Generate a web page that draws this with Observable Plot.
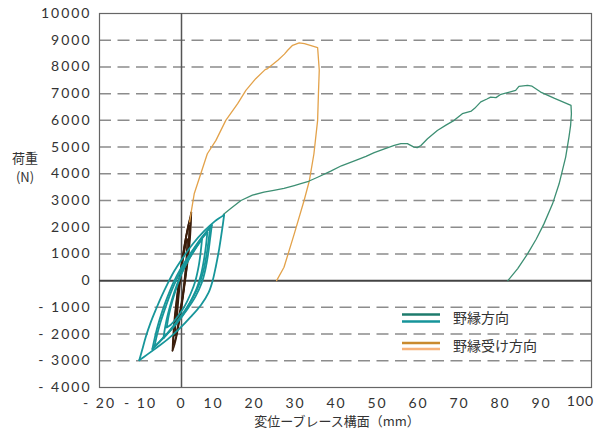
<!DOCTYPE html>
<html><head><meta charset="utf-8">
<script src="https://cdn.jsdelivr.net/npm/d3@7"></script>
<script src="https://cdn.jsdelivr.net/npm/@observablehq/plot@0.6"></script>
<style>
body{margin:0;background:#fff;}
#chart svg{display:block;}
</style>
</head><body><div id="chart"></div>
<script>
// ---- tick values ----
const xTicks = [-20,-10,0,10,20,30,40,50,60,70,80,90,100];
const yTicks = [-4000,-3000,-2000,-1000,0,1000,2000,3000,4000,5000,6000,7000,8000,9000,10000];
const gridY = [-3000,-2000,-1000,1000,2000,3000,4000,5000,6000,7000,8000,9000];

// ---- series names ----
const seriesNames = ["野縁方向","野縁受け方向"];

// ---- 野縁方向 monotonic (x mm, y N) ----
const nobuchiMono = [
 [10.2,2480],[12,2700],[14.5,3000],[17.3,3200],[20.1,3310],[22.5,3380],[25,3450],[27.5,3560],
 [29.1,3630],[31,3720],[33.2,3870],[36.4,4100],[39,4300],[42.5,4500],[45,4650],[47,4790],
 [49.5,4930],[51.9,5060],[53.5,5130],[55.1,5130],[56.7,5000],[57.5,4980],[58.4,5060],[60,5310],
 [62.4,5620],[64.5,5820],[66.5,6000],[68.5,6250],[70.7,6350],[71.5,6450],[73,6690],[74.5,6800],
 [75.4,6870],[76.7,6850],[77.9,6975],[80,7060],[81.5,7125],[82.3,7275],[84.4,7310],[85.5,7280],
 [87.6,7060],[91,6820],[95,6560],[95.1,6250],[94.9,5800],[94.5,5375],[93.7,4625],[92.1,3625],
 [90.5,2875],[88.4,2125],[86.5,1550],[84.4,1000],[82,450],[79.6,0]
];

// ---- 野縁受け方向 monotonic ----
const ukeMono = [
 [2.0,2200],[2.4,2600],[3.1,3250],[4.7,4000],[6.3,4750],[8.4,5250],[10.8,6000],[13.7,6625],
 [15.7,7125],[18.1,7560],[20.4,7900],[21,7940],[23.5,8250],[25.1,8480],[25.9,8625],[27.1,8810],
 [28.7,8900],[30,8870],[33.2,8725],[33.6,7875],[33.4,7000],[33.2,6000],[32.3,4750],[31.2,3750],
 [29.9,3000],[27.5,1750],[25,500],[23.2,0]
];

// ---- 野縁方向 cyclic loops (each loop: upper branch, lower branch) ----
const nobuchiLoop1Up = [[-10.3,-2980],[-9.6,-2600],[-8.7,-2100],[-7.6,-1600],[-6.3,-1100],[-4.9,-600],[-3.5,-150],[-1.8,350],[0.3,850],[2.8,1380],[5.5,1850],[8.1,2220],[10.4,2460]];
const nobuchiLoop1Dn = [[10.4,2460],[9.9,1900],[9.2,1200],[8.4,550],[7.6,0],[6.6,-450],[4.8,-900],[2.3,-1350],[-0.5,-1800],[-3.4,-2200],[-6,-2500],[-8.3,-2760],[-10.3,-2980]];
const nobuchiLoop2Up = [[-7.1,-2560],[-6.6,-2200],[-5.8,-1700],[-4.7,-1150],[-3.4,-600],[-2,-80],[-0.2,450],[1.9,950],[4.1,1450],[6,1820],[7.4,2080]];
const nobuchiLoop2Dn = [[7.4,2080],[7,1600],[6.5,1000],[5.8,400],[4.9,-100],[3.4,-600],[1.3,-1100],[-1.2,-1600],[-3.8,-2050],[-5.7,-2350],[-7.1,-2560]];
const nobuchiLoop3Up = [[-6.6,-2480],[-6,-2050],[-5.1,-1550],[-3.9,-1000],[-2.6,-450],[-1.2,50],[0.5,550],[2.5,1050],[4.5,1500],[6,1800],[7,1990]];
const nobuchiLoop3Dn = [[7,1990],[6.6,1500],[6.1,950],[5.4,400],[4.4,-100],[2.9,-600],[0.9,-1100],[-1.5,-1600],[-3.9,-2050],[-5.5,-2300],[-6.6,-2480]];
const nobuchiLoop4Up = [[-4.4,-2150],[-4,-1750],[-3.3,-1250],[-2.3,-700],[-1.1,-150],[0.4,400],[2.2,900],[4,1350],[5.4,1650],[6.3,1810]];
const nobuchiLoop4Dn = [[6.3,1810],[6,1350],[5.5,800],[4.8,250],[3.8,-250],[2.3,-750],[0.5,-1250],[-1.5,-1650],[-3.2,-1950],[-4.4,-2150]];
const nobuchiLoop5Up = [[-3.6,-1750],[-3.1,-1300],[-2.3,-800],[-1.3,-300],[0,250],[1.6,750],[3.2,1150],[4.3,1400],[5,1550]];
const nobuchiLoop5Dn = [[5,1550],[4.7,1100],[4.2,550],[3.4,0],[2.2,-500],[0.6,-1000],[-1.2,-1400],[-2.6,-1650],[-3.6,-1750]];

// ---- 野縁受け方向 cyclic loops ----
const ukeLoop1Up = [[-2.2,-2625],[-2.05,-2100],[-1.7,-1400],[-1.2,-700],[-0.6,0],[0.1,700],[0.8,1400],[1.5,1950],[2.0,2300],[2.4,2560]];
const ukeLoop1Dn = [[2.4,2560],[2.3,2100],[2.0,1400],[1.5,700],[0.9,0],[0.3,-700],[-0.4,-1400],[-1.1,-2000],[-1.7,-2400],[-2.2,-2625]];
const ukeLoop2Up = [[-2.0,-2400],[-1.8,-1800],[-1.4,-1100],[-0.9,-400],[-0.3,300],[0.4,1000],[1.1,1650],[1.7,2100],[2.2,2350]];
const ukeLoop2Dn = [[2.2,2350],[2.05,1800],[1.7,1100],[1.2,400],[0.6,-300],[-0.1,-1000],[-0.8,-1650],[-1.4,-2150],[-2.0,-2400]];
const ukeLoop3Up = [[-1.6,-2050],[-1.4,-1500],[-1,-800],[-0.5,-100],[0.1,600],[0.8,1300],[1.4,1800],[1.9,2050]];
const ukeLoop3Dn = [[1.9,2050],[1.75,1500],[1.35,800],[0.85,100],[0.3,-600],[-0.4,-1300],[-1,-1800],[-1.6,-2050]];
const ukeLoop4Up = [[-1.1,-1500],[-0.9,-1000],[-0.5,-300],[0,400],[0.6,1000],[1.1,1400],[1.4,1550]];
const ukeLoop4Dn = [[1.4,1550],[1.25,1000],[0.9,300],[0.4,-400],[-0.2,-1000],[-0.7,-1350],[-1.1,-1500]];

// build tables
function toRows(branches){
  const rows=[];
  branches.forEach((b,i)=>b.forEach(([x,y])=>rows.push({x,y,k:i})));
  return rows;
}
const nobuchiLoops = toRows([nobuchiLoop1Up,nobuchiLoop1Dn,nobuchiLoop2Up,nobuchiLoop2Dn,nobuchiLoop3Up,nobuchiLoop3Dn,nobuchiLoop4Up,nobuchiLoop4Dn,nobuchiLoop5Up,nobuchiLoop5Dn]);
const ukeLoops = toRows([ukeLoop1Up,ukeLoop1Dn,ukeLoop2Up,ukeLoop2Dn,ukeLoop3Up,ukeLoop3Dn,ukeLoop4Up,ukeLoop4Dn]);
const nobuchiMonoRows = nobuchiMono.map(([x,y])=>({x,y}));
const ukeMonoRows = ukeMono.map(([x,y])=>({x,y}));

const fmt = d => d < 0 ? "- " + Math.abs(d) : String(d);
const FONT = "Lato, 'Noto Sans', sans-serif";
const CJK = "'Noto Sans CJK JP', sans-serif";

const chart = Plot.plot({
  width: 595, height: 444,
  marginLeft: 99, marginRight: 4, marginTop: 13, marginBottom: 57,
  style: {fontFamily: FONT, fontSize: "14px", color: "#333", background: "#fff"},
  x: {domain: [-20, 100]},
  y: {domain: [-4000, 10000]},
  marks: [
    Plot.ruleY(gridY, {stroke: "#8c8c8c", strokeWidth: 1.5, strokeDasharray: "12,6.5"}),
    Plot.frame({stroke: "#666", strokeWidth: 1.2}),
    Plot.ruleX([0], {stroke: "#555", strokeWidth: 1.5}),
    Plot.ruleY([0], {stroke: "#444", strokeWidth: 2}),
    Plot.line(ukeLoops, {x: "x", y: "y", z: "k", stroke: "#3b1e0c", strokeWidth: 1.6, curve: "catmull-rom"}),
    Plot.line(ukeMonoRows, {x: "x", y: "y", stroke: "#e3a24a", strokeWidth: 1.3}),
    Plot.line(nobuchiMonoRows, {x: "x", y: "y", stroke: "#3d8f73", strokeWidth: 1.3}),
    Plot.line(nobuchiLoops, {x: "x", y: "y", z: "k", stroke: "#17969a", strokeWidth: 1.8, curve: "catmull-rom"}),
    Plot.axisX({ticks: xTicks, tickSize: 0, tickPadding: 11, tickFormat: fmt, label: null}),
    Plot.axisY({ticks: yTicks, tickSize: 0, tickPadding: 8, tickFormat: fmt, label: null})
  ]
});
document.getElementById("chart").appendChild(chart);

const svg = d3.select(chart);
svg.selectAll('g[aria-label="x-axis tick label"] text, g[aria-label="y-axis tick label"] text')
   .style("letter-spacing", "2px").attr("fill", "#333");
// positive x labels sit a little left of their ticks in the reference; "100" is raised
svg.selectAll('g[aria-label="x-axis tick label"] text').each(function(){
  const v = +this.textContent;
  if (v > 0) d3.select(this).attr("dx", -9);
  if (v === 100) d3.select(this).attr("dx", -11).attr("dy", "-0.15em").style("letter-spacing", "1px");
});

// axis titles
svg.append("text").attr("x", 25).attr("y", 163).attr("text-anchor", "middle")
   .style("font-family", CJK).style("font-size", "13px").attr("fill", "#333").text("荷重");
svg.append("text").attr("x", 25).attr("y", 182).attr("text-anchor", "middle")
   .style("font-family", CJK).style("font-size", "13px").attr("fill", "#333").text("(N)");
svg.append("text").attr("x", 337).attr("y", 426).attr("text-anchor", "middle")
   .style("font-family", CJK).style("font-size", "13px").attr("fill", "#333").text("変位ーブレース構面（mm）");

// legend
const leg = svg.append("g");
const legItems = [
  {name: seriesNames[0], y: 318, c1: "#1e7b6c", c2: "#16949a", gap: 7},
  {name: seriesNames[1], y: 346, c1: "#c98a2e", c2: "#f7b27a", gap: 6}
];
legItems.forEach(it => {
  leg.append("line").attr("x1", 402).attr("x2", 440).attr("y1", it.y - it.gap/2).attr("y2", it.y - it.gap/2)
     .attr("stroke", it.c1).attr("stroke-width", 2.5);
  leg.append("line").attr("x1", 402).attr("x2", 440).attr("y1", it.y + it.gap/2).attr("y2", it.y + it.gap/2)
     .attr("stroke", it.c2).attr("stroke-width", 2.5);
  leg.append("text").attr("x", 453).attr("y", it.y + 5).attr("text-anchor", "start")
     .style("font-family", CJK).style("font-size", "14px")
     .attr("fill", "#333").text(it.name);
});
</script>
</body></html>
